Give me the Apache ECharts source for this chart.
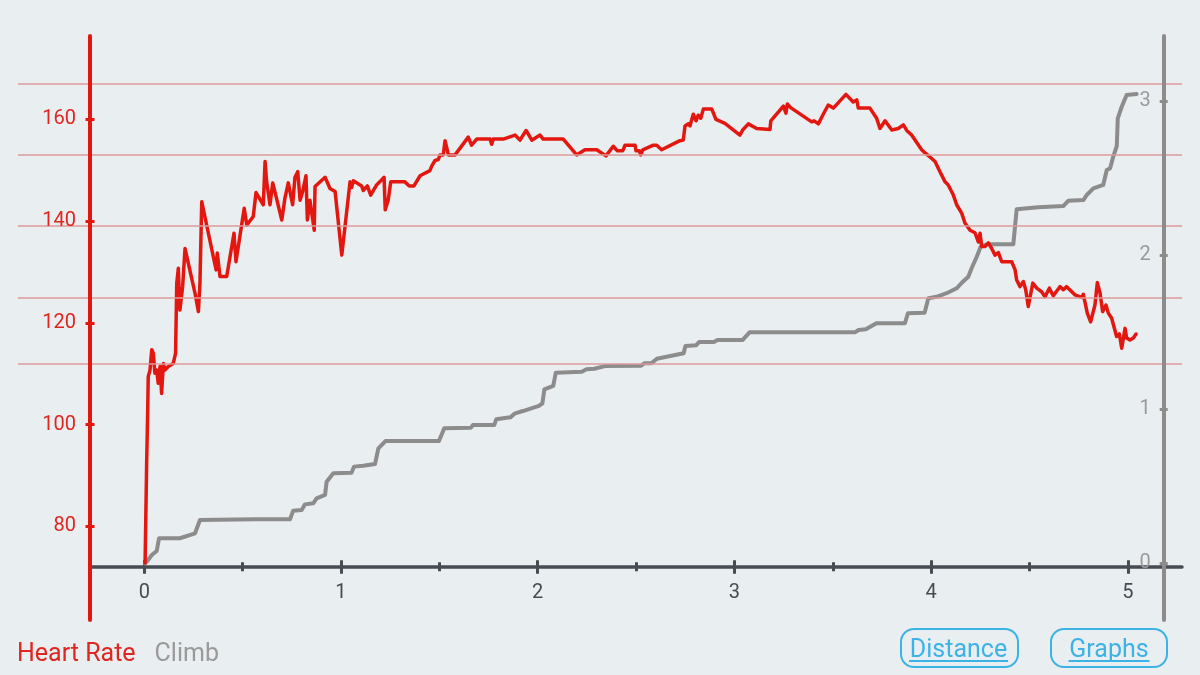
<!DOCTYPE html>
<html>
<head>
<meta charset="utf-8">
<script src="https://cdn.jsdelivr.net/npm/echarts@6/dist/echarts.min.js"></script>
<style>
html,body{margin:0;padding:0;background:#e9eef1;}
#chart{width:1200px;height:675px;}
</style>
</head>
<body>
<div id="chart"></div>
<script>
// ---- data ----
const distanceLabels = [0, 1, 2, 3, 4, 5];
const distanceTicks = [0, 0.5, 1, 1.5, 2, 2.5, 3, 3.5, 4, 4.5, 5];
const hrTicks = [80, 100, 120, 140, 160];
const climbTicks = [0, 1, 2, 3];
const hrZones = [112, 125, 139, 153, 167];
const seriesNames = ['Heart Rate', 'Climb'];

// [distance, heart rate]
const heartRate = [
  [0.004,72.8],[0.012,92.4],[0.017,102.2],[0.020,109.4],[0.029,110.7],[0.038,114.7],[0.046,114.0],
  [0.054,110.1],[0.063,110.7],[0.071,108.1],[0.080,111.4],[0.088,106.1],[0.097,112.0],[0.105,110.7],
  [0.122,111.4],[0.147,112.0],[0.159,114.0],[0.165,127.8],[0.173,130.7],[0.181,122.5],[0.195,127.1],
  [0.207,134.6],[0.258,125.8],[0.275,122.2],[0.283,127.8],[0.292,143.8],[0.365,130.4],[0.371,133.7],
  [0.385,129.1],[0.419,129.1],[0.456,137.6],[0.466,132.0],[0.508,142.5],[0.521,139.2],[0.554,140.9],
  [0.568,145.6],[0.605,143.2],[0.614,151.7],[0.622,147.7],[0.639,143.2],[0.653,147.5],[0.699,140.2],
  [0.715,144.5],[0.732,147.5],[0.754,143.2],[0.766,148.6],[0.780,149.7],[0.792,144.1],[0.805,145.8],
  [0.822,148.9],[0.829,140.2],[0.842,144.1],[0.864,138.2],[0.868,146.8],[0.919,148.6],[0.944,146.4],
  [0.970,145.8],[1.004,133.3],[1.046,147.7],[1.054,146.6],[1.063,147.9],[1.105,146.9],[1.113,146.0],
  [1.134,146.9],[1.151,145.1],[1.181,147.1],[1.202,147.9],[1.219,148.6],[1.225,142.2],[1.240,144.1],
  [1.253,147.7],[1.325,147.7],[1.347,146.9],[1.371,146.9],[1.402,148.9],[1.452,149.9],[1.461,150.8],
  [1.478,151.9],[1.495,152.1],[1.503,153.0],[1.520,153.0],[1.529,155.8],[1.537,154.5],[1.546,153.0],
  [1.580,153.0],[1.647,156.5],[1.664,154.9],[1.690,156.1],[1.758,156.1],[1.766,155.1],[1.774,156.1],
  [1.825,156.1],[1.885,156.9],[1.910,155.9],[1.941,157.8],[1.970,155.9],[2.012,156.9],[2.028,156.1],
  [2.130,156.1],[2.198,153.0],[2.240,154.0],[2.300,154.0],[2.347,152.8],[2.384,154.7],[2.405,153.8],
  [2.432,153.8],[2.444,154.9],[2.495,154.9],[2.500,153.8],[2.517,153.8],[2.524,153.0],[2.534,154.0],
  [2.588,154.9],[2.605,154.9],[2.630,154.0],[2.723,155.8],[2.740,155.9],[2.749,158.7],[2.766,159.1],
  [2.774,158.7],[2.791,161.0],[2.805,159.7],[2.816,160.8],[2.829,160.2],[2.842,162.0],[2.885,162.0],
  [2.906,160.0],[2.952,159.2],[3.028,156.9],[3.042,157.9],[3.071,159.1],[3.113,158.2],[3.181,158.0],
  [3.185,159.7],[3.249,162.6],[3.262,161.2],[3.269,163.0],[3.286,162.3],[3.393,159.5],[3.405,159.7],
  [3.427,159.1],[3.449,160.8],[3.477,162.8],[3.503,162.2],[3.567,164.9],[3.604,163.4],[3.622,163.8],
  [3.630,162.2],[3.689,162.2],[3.723,160.2],[3.740,158.2],[3.766,159.7],[3.800,157.9],[3.833,158.2],
  [3.859,158.9],[3.876,157.8],[3.901,156.9],[3.952,154.0],[3.969,153.4],[3.994,152.6],[4.020,151.7],
  [4.045,149.7],[4.071,147.7],[4.087,147.1],[4.113,145.1],[4.130,143.2],[4.156,141.5],[4.172,139.6],
  [4.198,138.2],[4.223,137.7],[4.240,135.9],[4.249,137.6],[4.257,135.0],[4.274,135.0],[4.291,135.7],
  [4.308,134.6],[4.325,133.3],[4.342,133.8],[4.359,132.0],[4.410,132.0],[4.427,130.4],[4.435,128.4],
  [4.452,127.1],[4.469,128.1],[4.481,126.5],[4.494,123.2],[4.517,127.8],[4.537,126.8],[4.562,126.1],
  [4.579,125.1],[4.601,126.8],[4.621,125.3],[4.655,127.1],[4.672,126.5],[4.689,127.1],[4.731,125.5],
  [4.766,125.0],[4.774,125.6],[4.794,121.9],[4.811,120.2],[4.833,123.5],[4.845,127.9],[4.859,125.8],
  [4.872,122.2],[4.889,123.5],[4.901,121.9],[4.918,120.9],[4.943,117.3],[4.957,117.8],[4.969,115.0],
  [4.986,118.9],[4.994,117.0],[5.011,116.6],[5.028,117.0],[5.042,117.8]
];

// [distance, climb]
const climb = [
  [0.004,0.00],[0.020,0.023],[0.038,0.055],[0.063,0.081],[0.075,0.164],[0.181,0.164],[0.258,0.196],
  [0.283,0.282],[0.563,0.287],[0.741,0.287],[0.757,0.343],[0.800,0.347],[0.817,0.384],[0.859,0.391],
  [0.876,0.423],[0.919,0.445],[0.927,0.531],[0.961,0.586],[1.054,0.590],[1.066,0.629],[1.113,0.635],
  [1.173,0.646],[1.190,0.748],[1.226,0.795],[1.498,0.795],[1.525,0.878],[1.661,0.882],[1.671,0.899],
  [1.779,0.899],[1.789,0.936],[1.861,0.949],[1.885,0.975],[1.925,0.990],[2.006,1.023],[2.024,1.040],
  [2.034,1.131],[2.079,1.153],[2.092,1.239],[2.224,1.245],[2.248,1.261],[2.288,1.265],[2.342,1.282],
  [2.524,1.284],[2.542,1.300],[2.578,1.300],[2.606,1.330],[2.742,1.365],[2.751,1.412],[2.805,1.417],
  [2.820,1.438],[2.896,1.438],[2.914,1.451],[3.041,1.451],[3.077,1.501],[3.613,1.501],[3.631,1.516],
  [3.668,1.521],[3.722,1.560],[3.867,1.560],[3.882,1.625],[3.967,1.629],[3.986,1.722],[4.028,1.732],
  [4.079,1.755],[4.130,1.787],[4.156,1.823],[4.189,1.862],[4.206,1.917],[4.232,1.992],[4.252,2.057],
  [4.283,2.073],[4.418,2.073],[4.435,2.300],[4.545,2.313],[4.672,2.321],[4.698,2.356],[4.774,2.360],
  [4.791,2.393],[4.825,2.436],[4.875,2.458],[4.893,2.555],[4.910,2.566],[4.926,2.642],[4.944,2.711],
  [4.949,2.891],[4.969,2.966],[4.994,3.042],[5.045,3.049]
];

// ---- axis ranges ----
const X_MIN = -0.276, X_MAX = 5.2755;
const HR_MIN = 61.58, HR_MAX = 176.37;
const CL_MIN = -0.3669, CL_MAX = 3.4253;

const RED = '#e3170f';
const RED_TEXT = '#df2620';
const GRAY = '#8c8c8c';
const GRAY_TEXT = '#9a9a9a';
const DARK = '#474c53';
const BLUE = '#3cb2e6';
const FONT = 'Roboto';

const chart = echarts.init(document.getElementById('chart'), null, {renderer: 'canvas'});

function xAx(extra) {
  return Object.assign({
    type: 'value', gridIndex: 0, min: X_MIN, max: X_MAX, position: 'bottom', offset: -53.3,
    axisLine: {show: false, onZero: false},
    splitLine: {show: false},
    axisLabel: {show: false},
    axisTick: {show: false}
  }, extra);
}

const option = {
  backgroundColor: '#e9eef1',
  animation: false,
  textStyle: {fontFamily: FONT},
  grid: [
    {left: 90, right: 18, top: 36, bottom: 55},
    {left: 18, right: 18, top: 36, bottom: 55}
  ],
  legend: {
    left: 7, top: 637, icon: 'none', itemWidth: 0, itemGap: 14,
    selectedMode: false,
    textStyle: {fontSize: 25, fontFamily: FONT},
    data: [
      {name: seriesNames[0], textStyle: {color: RED_TEXT}},
      {name: seriesNames[1], textStyle: {color: GRAY_TEXT}}
    ]
  },
  xAxis: [
    xAx({
      axisLine: {show: true, onZero: false, lineStyle: {color: DARK, width: 3.5}},
      axisTick: {show: true, inside: false, length: 4.5, customValues: distanceTicks, lineStyle: {color: DARK, width: 3}},
      axisLabel: {show: true, customValues: distanceLabels, margin: 16, fontSize: 20, color: DARK, fontFamily: FONT}
    }),
    xAx({axisTick: {show: true, inside: true, length: 4.5, customValues: distanceTicks, lineStyle: {color: DARK, width: 3}}}),
    xAx({axisTick: {show: true, inside: false, length: 7, customValues: distanceLabels, lineStyle: {color: DARK, width: 3}}}),
    xAx({axisTick: {show: true, inside: true, length: 6.5, customValues: distanceLabels, lineStyle: {color: DARK, width: 3}}}),
    {type: 'value', gridIndex: 1, min: 0, max: 1, show: false}
  ],
  yAxis: [
    {
      type: 'value', gridIndex: 0, min: HR_MIN, max: HR_MAX, position: 'left', z: 10,
      axisLine: {show: true, onZero: false, lineStyle: {color: RED, width: 4}},
      axisTick: {show: true, inside: false, length: 4.5, customValues: hrTicks, lineStyle: {color: RED, width: 3}},
      axisLabel: {show: true, customValues: hrTicks, margin: 14, fontSize: 20, color: RED_TEXT, fontFamily: FONT},
      splitLine: {show: false}
    },
    {
      type: 'value', gridIndex: 0, min: HR_MIN, max: HR_MAX, position: 'left', z: 10,
      axisLine: {show: false, onZero: false},
      axisTick: {show: true, inside: true, length: 4.5, customValues: hrTicks, lineStyle: {color: RED, width: 3}},
      axisLabel: {show: false},
      splitLine: {show: false}
    },
    {
      type: 'value', gridIndex: 0, min: CL_MIN, max: CL_MAX, position: 'right', offset: -18.3, z: 10,
      axisLine: {show: true, onZero: false, lineStyle: {color: GRAY, width: 4}},
      axisTick: {show: true, inside: false, length: 4, customValues: climbTicks, lineStyle: {color: GRAY, width: 3}},
      axisLabel: {show: true, inside: true, customValues: climbTicks, margin: 13, fontSize: 20, color: GRAY_TEXT, fontFamily: FONT},
      splitLine: {show: false}
    },
    {
      type: 'value', gridIndex: 0, min: CL_MIN, max: CL_MAX, position: 'right', offset: -18.3, z: 10,
      axisLine: {show: false, onZero: false},
      axisTick: {show: true, inside: true, length: 4, customValues: climbTicks, lineStyle: {color: GRAY, width: 3}},
      axisLabel: {show: false},
      splitLine: {show: false}
    },
    {type: 'value', gridIndex: 1, min: HR_MIN, max: HR_MAX, show: false}
  ],
  series: [
    {
      name: 'zones', type: 'line', xAxisIndex: 4, yAxisIndex: 4, data: [], z: 1,
      markLine: {
        silent: true, symbol: ['none', 'none'], label: {show: false},
        lineStyle: {color: '#dc9a9a', width: 1.5, type: 'solid'},
        data: hrZones.map(v => ({yAxis: v}))
      }
    },
    {
      name: seriesNames[1], type: 'line', xAxisIndex: 0, yAxisIndex: 2, data: climb, z: 3,
      showSymbol: false, color: GRAY,
      lineStyle: {color: GRAY, width: 4, cap: 'round', join: 'round'}
    },
    {
      name: seriesNames[0], type: 'line', xAxisIndex: 0, yAxisIndex: 0, data: heartRate, z: 4,
      showSymbol: false, color: RED,
      lineStyle: {color: RED, width: 3.5, cap: 'round', join: 'round'}
    }
  ],
  graphic: [
    {type: 'rect', shape: {x: 901, y: 629, width: 117, height: 38, r: 13}, style: {fill: 'none', stroke: BLUE, lineWidth: 2}},
    {type: 'text', x: 958.5, y: 651, style: {text: 'Distance', fill: BLUE, font: '25px Roboto', textAlign: 'center', textVerticalAlign: 'middle'}},
    {type: 'line', shape: {x1: 909, y1: 661, x2: 1008, y2: 661}, style: {stroke: BLUE, lineWidth: 2}},
    {type: 'rect', shape: {x: 1051, y: 629, width: 116, height: 38, r: 13}, style: {fill: 'none', stroke: BLUE, lineWidth: 2}},
    {type: 'text', x: 1109, y: 651, style: {text: 'Graphs', fill: BLUE, font: '25px Roboto', textAlign: 'center', textVerticalAlign: 'middle'}},
    {type: 'line', shape: {x1: 1068.5, y1: 661, x2: 1149.5, y2: 661}, style: {stroke: BLUE, lineWidth: 2}}
  ]
};
chart.setOption(option);
</script>
</body>
</html>
